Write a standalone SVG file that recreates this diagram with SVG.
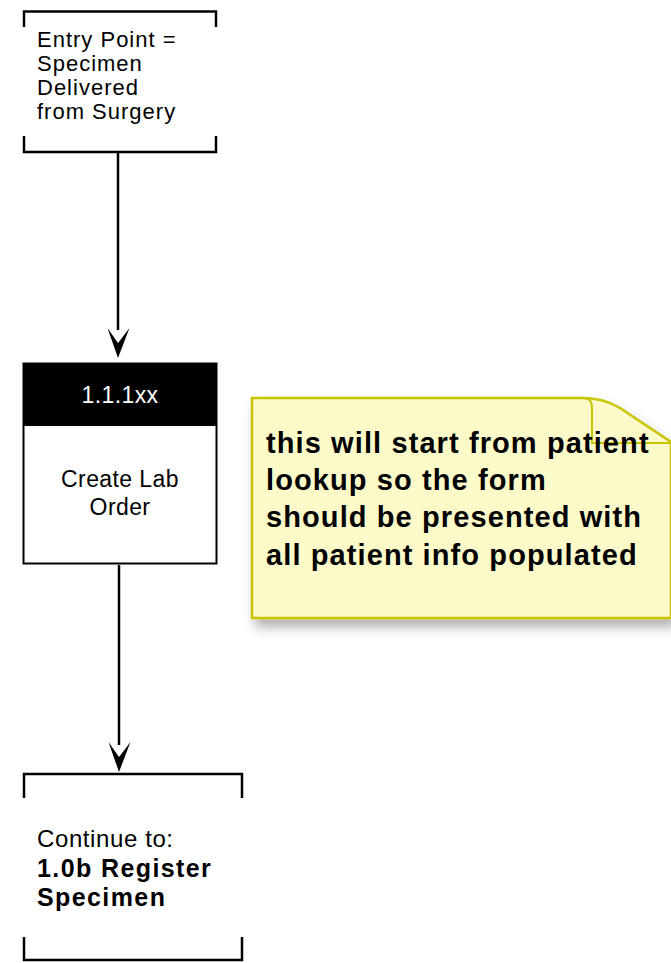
<svg xmlns="http://www.w3.org/2000/svg" width="671" height="963" viewBox="0 0 671 963">
<defs>
<style>
.br{fill:none;stroke:#000;stroke-width:2.5}
.lbl{font-family:"Liberation Sans",Arial,sans-serif;fill:#000}
.e{font-size:22px;letter-spacing:1px}
.t{font-size:23px;letter-spacing:0.4px}
.c{font-size:24px;letter-spacing:0.6px}
.b{font-size:25px;font-weight:bold;letter-spacing:1.4px}
.note{font-family:"Liberation Sans",Arial,sans-serif;font-size:29px;font-weight:bold;letter-spacing:1.1px;fill:#000}
.edge{fill:none;stroke:#000;stroke-width:2.5}
</style>
<filter id="sh" x="-10%" y="-10%" width="130%" height="140%">
<feDropShadow dx="4" dy="8" stdDeviation="6" flood-color="#000" flood-opacity="0.3"/>
</filter>
</defs>
<rect width="671" height="963" fill="#fff"/>
<g id="connectors">
<path class="edge" d="M118,153 V330"/>
<path d="M118,358 L107.5,328 L118,343 L129.5,328 Z" fill="#000"/>
<path class="edge" d="M119,565 V745"/>
<path d="M119,772 L108.5,742 L119,757 L130.5,742 Z" fill="#000"/>
</g>
<g id="entry">
<path class="br" d="M24,27 V11.5 H216 V27"/>
<path class="br" d="M24,136 V152 H216 V136"/>
<text class="lbl e" x="37" y="47">Entry Point =</text>
<text class="lbl e" x="37" y="71">Specimen</text>
<text class="lbl e" x="37" y="95">Delivered</text>
<text class="lbl e" x="37" y="119">from Surgery</text>
</g>
<g id="task">
<rect x="23.5" y="363.5" width="193" height="200" fill="#fff" stroke="#000" stroke-width="2"/>
<rect x="23.5" y="363.5" width="193" height="62.5" fill="#000"/>
<text class="lbl t" x="120" y="403" style="fill:#fff" text-anchor="middle">1.1.1xx</text>
<text class="lbl t" x="120" y="487" text-anchor="middle">Create Lab</text>
<text class="lbl t" x="120" y="515" text-anchor="middle">Order</text>
</g>
<g id="note">
<path d="M252,398 H583 C600,398 610,402 620,408 L671,442 V618 H252 Z" fill="#fcfac8" stroke="#c8c400" stroke-width="2.5" filter="url(#sh)"/>
<path d="M585,398.5 C592,399 592,404 592,412 V443 H671" fill="none" stroke="#c8c400" stroke-width="2"/>
<text class="note" x="266" y="453">this will start from patient</text>
<text class="note" x="266" y="490">lookup so the form</text>
<text class="note" x="266" y="527">should be presented with</text>
<text class="note" x="266" y="565">all patient info populated</text>
</g>
<g id="continue">
<path class="br" d="M24,798 V774 H242 V798"/>
<path class="br" d="M24,937 V960 H242 V937"/>
<text class="lbl c" x="37" y="847">Continue to:</text>
<text class="lbl b" x="37" y="877">1.0b Register</text>
<text class="lbl b" x="37" y="906">Specimen</text>
</g>
</svg>
